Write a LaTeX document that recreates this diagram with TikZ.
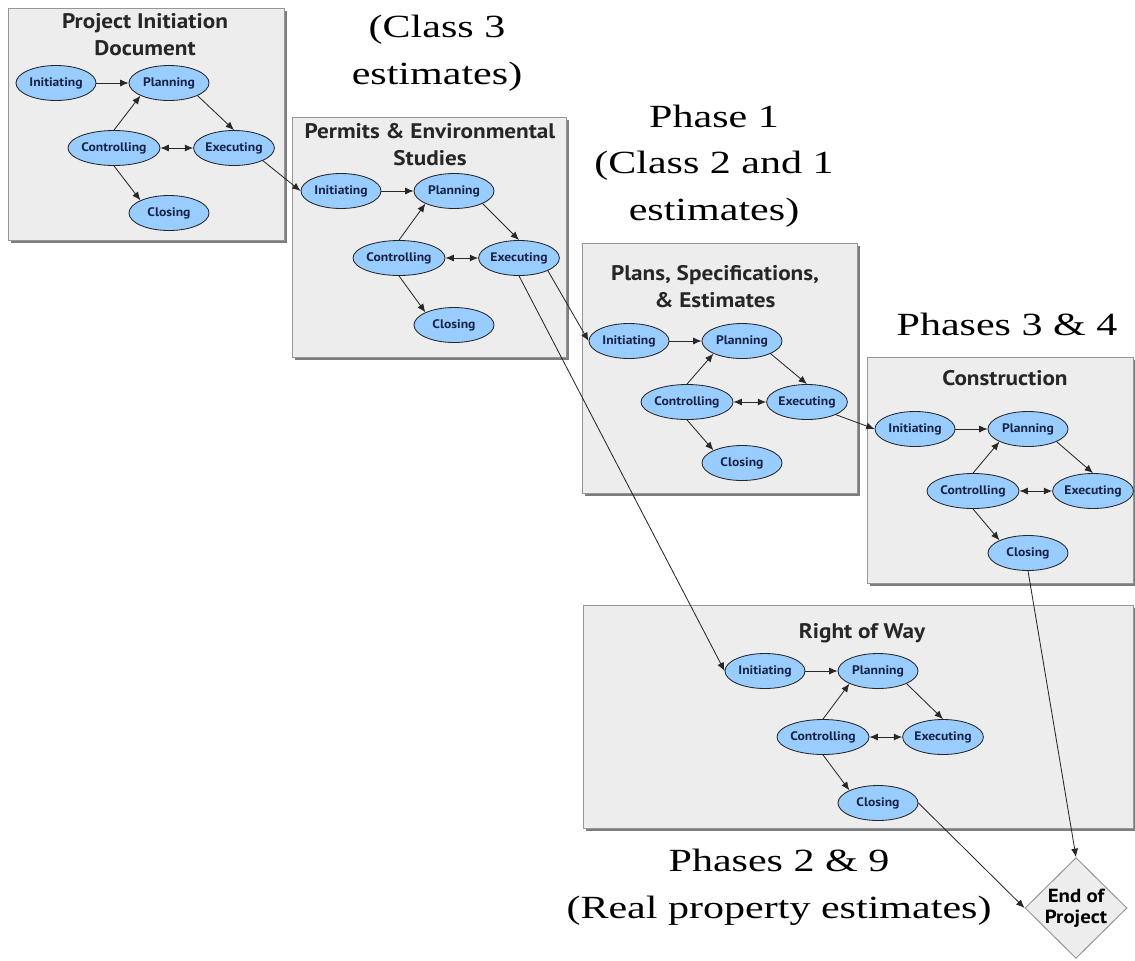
\documentclass[tikz,border=0pt]{standalone}
\usepackage{fontspec}
\setsansfont[FakeStretch=1.1]{PT Sans}
\newfontfamily\phasefont[FakeStretch=1.3]{Liberation Serif}
\usepackage{tikz}
\usetikzlibrary{shapes.geometric, arrows.meta}
\definecolor{boxfill}{RGB}{237,237,237}
\definecolor{boxedge}{RGB}{150,150,150}
\definecolor{boxshade}{RGB}{125,125,125}
\definecolor{stagefill}{RGB}{153,204,255}
\definecolor{stagetext}{RGB}{25,35,70}
\definecolor{linkgray}{RGB}{40,40,40}
\tikzset{
  phasebox/.style={fill=boxfill, draw=boxedge, line width=0.7pt},
  boxshadow/.style={fill=boxshade},
  boxtitle/.style={align=center, anchor=base, text=black!85,
    font=\sffamily\bfseries\fontsize{15}{18.5}\selectfont},
  stage/.style={ellipse, draw=black!85, fill=stagefill, text=stagetext,
    minimum width=2cm, minimum height=0.875cm, inner sep=0pt,
    font=\sffamily\bfseries\fontsize{8.8}{10}\selectfont, line width=0.6pt},
  endbox/.style={diamond, draw=boxedge, fill=boxfill, align=center,
    minimum width=2.55cm, minimum height=2.43cm, inner sep=0pt,
    font=\sffamily\bfseries\fontsize{13.5}{15}\selectfont, line width=0.7pt},
  phaselbl/.style={align=center, anchor=base, inner sep=0pt,
    font=\phasefont\fontsize{23}{33}\selectfont},
  arrow/.style={-{Latex[length=6pt,width=5pt]}, line width=0.6pt, color=linkgray},
  dblarrow/.style={{Latex[length=6pt,width=5pt]}-{Latex[length=6pt,width=5pt]},
    line width=0.6pt, color=linkgray}
}

\begin{document}
\begin{tikzpicture}[x=0.025cm, y=-0.025cm]
  \useasboundingbox (0,0) rectangle (1135,960);
  % phase boxes
  \fill[boxshadow] (11,11) rectangle (287,243);
  \draw[phasebox] (8,8) rectangle (284,240);
  \fill[boxshadow] (295,120) rectangle (569,360);
  \draw[phasebox] (292,117) rectangle (566,357);
  \fill[boxshadow] (585,246) rectangle (860,496);
  \draw[phasebox] (582,243) rectangle (857,493);
  \fill[boxshadow] (870,360) rectangle (1136,586);
  \draw[phasebox] (867,357) rectangle (1133,583);
  \fill[boxshadow] (586,608) rectangle (1136,831);
  \draw[phasebox] (583,605) rectangle (1133,828);

  \node[boxtitle] (t1) at (145,55) {Project Initiation\\Document};
  \node[boxtitle] (t2) at (430,165) {Permits \& Environmental\\Studies};
  \node[boxtitle] (t3) at (715,307) {Plans, Specifications,\\\& Estimates};
  \node[boxtitle] (t4) at (1005,385) {Construction};
  \node[boxtitle] (t5) at (862,638) {Right of Way};

  % process groups
  \foreach \g/\x/\y/\s in {b1/56/83/65, b2/341/191/67, b3/629/341/61,
                           b4/915/429/62, b5/765/671/66} {
    \node[stage] (\g-i) at (\x,\y) {Initiating};
    \node[stage] (\g-p) at (\x+113,\y) {Planning};
    \node[stage] (\g-c) at (\x+58,\y+\s) {Controlling};
    \node[stage] (\g-e) at (\x+178,\y+\s) {Executing};
    \node[stage] (\g-cl) at (\x+113,\y+2*\s) {Closing};
    \draw[arrow] (\g-i) -- (\g-p);
    \draw[arrow] (\g-c.north) -- (\g-p.south west);
    \draw[arrow] (\g-p.south east) -- (\g-e.north);
    \draw[dblarrow] (\g-c) -- (\g-e);
    \draw[arrow] (\g-c.south) -- (\g-cl.north west);
  }

  \node[endbox] (end) at (1076,908) {End of\\Project};

  % links between phases
  \draw[arrow] (b1-e.south east) -- (b2-i.west);
  \draw[arrow] (b2-e.south east) -- (b3-i.west);
  \draw[arrow] (b2-e.south) -- (b5-i.west);
  \draw[arrow] (b3-e.south east) -- (b4-i.west);
  \draw[arrow] (b4-cl.south) -- (end.north);
  \draw[arrow] (b5-cl.east) -- (end.west);

  \node[phaselbl] (cls3) at (437,84) {(Class 3\\estimates)};
  \node[phaselbl] (ph1) at (714,220) {Phase 1\\(Class 2 and 1\\estimates)};
  \node[phaselbl] (ph34) at (1007,335) {Phases 3 \& 4};
  \node[phaselbl] (ph29) at (779,918) {Phases 2 \& 9\\(Real property estimates)};
\end{tikzpicture}
\end{document}
